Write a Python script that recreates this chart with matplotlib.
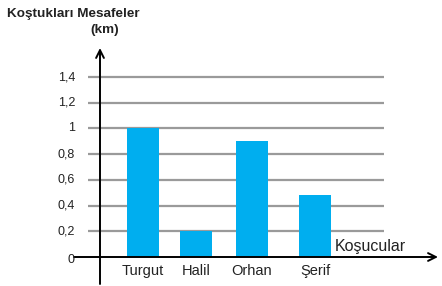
import matplotlib.pyplot as plt

plt.rcParams['font.family'] = ['Liberation Sans', 'DejaVu Sans']

runners = ['Turgut', 'Halil', 'Orhan', 'Şerif']
distances = [1.0, 0.2, 0.9, 0.48]
ticks = [0, 0.2, 0.4, 0.6, 0.8, 1.0, 1.2, 1.4]
tick_labels = ['0', '0,2', '0,4', '0,6', '0,8', '1', '1,2', '1,4']

# bar centres in pixel units (the original spacing is uneven)
xpos = [143, 196, 252, 315]

fig = plt.figure(figsize=(4.42, 2.86), dpi=100)
ax = fig.add_axes([0, 0, 1, 1])
ax.set_xlim(0, 442)
ppu = 180 / 1.4  # pixels per km
ax.set_ylim(-(286 - 257) / ppu, 257 / ppu)
ax.axis('off')

# grid lines
for t in ticks[1:]:
    ax.plot([88, 384], [t, t], color='#9a9a9a', lw=1.6, zorder=1, solid_capstyle='butt')

ax.bar(xpos, distances, width=32, color='#00aeef', zorder=2)

# axes with arrows
ax.annotate('', xy=(100, 209 / ppu), xytext=(100, -27 / ppu),
            arrowprops=dict(arrowstyle='->', color='black', lw=1.4,
                            mutation_scale=14, shrinkA=0, shrinkB=0), zorder=3)
ax.annotate('', xy=(438, 0), xytext=(74, 0),
            arrowprops=dict(arrowstyle='->', color='black', lw=1.4,
                            mutation_scale=14, shrinkA=0, shrinkB=0), zorder=3)

for t, lab in zip(ticks, tick_labels):
    yy = t if t > 0 else -3 / ppu
    ax.text(75, yy, lab, ha='right', va='center', fontsize=9, color='#222222')

for x, name in zip(xpos, runners):
    ax.text(x, -14 / ppu, name, ha='center', va='center', fontsize=10.5, color='#222222')

ax.text(73, 243 / ppu, 'Koştukları Mesafeler', ha='center', va='center',
        fontsize=9.7, color='#222222', fontweight='bold')
ax.text(105, 227 / ppu, '(km)', ha='center', va='center', fontsize=9.7,
        color='#222222', fontweight='bold')
ax.text(335, 11 / ppu, 'Koşucular', ha='left', va='center', fontsize=11.5, color='#222222')

fig.savefig('out.png', dpi=100)
